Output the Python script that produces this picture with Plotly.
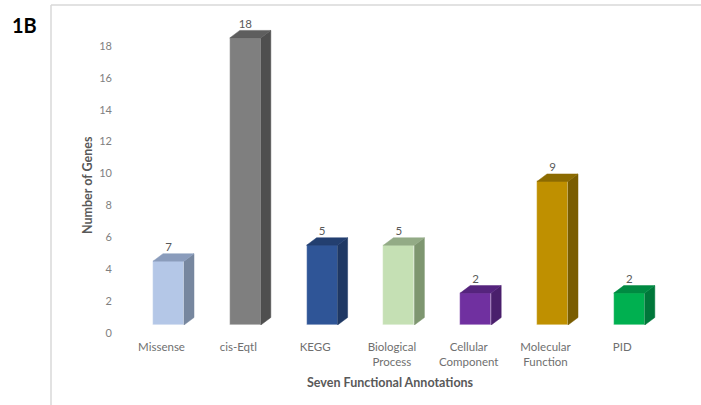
import plotly.graph_objects as go

categories = ["Missense", "cis-Eqtl", "KEGG", "Biological<br>Process", "Cellular<br>Component",
              "Molecular<br>Function", "PID"]
bar_values = [4, 18, 5, 5, 2, 9, 2]
label_texts = ["7", "18", "5", "5", "2", "9", "2"]
y_ticks = [0, 2, 4, 6, 8, 10, 12, 14, 16, 18]

front_colors = ["#b4c7e7", "#7f7f7f", "#2f5597", "#c5e0b4", "#7030a0", "#bf9000", "#00b050"]
side_colors = ["#77879f", "#4f4f4f", "#1f3864", "#7e9670", "#4a1f6c", "#7a5d00", "#00773a"]
top_colors = ["#8a9cbc", "#5e5e5e", "#233f70", "#93ab86", "#55247d", "#8c6b00", "#008a42"]

W, H = 701, 405
L, R, T, B = 115, 11, 14, 80
PW, PH = W - L - R, H - T - B
px_per_cat = 76.8
x0 = -(168.5 - L) / px_per_cat
x1 = x0 + PW / px_per_cat
yr = [0, 19.5]
px_per_y = PH / (yr[1] - yr[0])

bw = 31 / px_per_cat
dx = 10 / px_per_cat
dy = 7.5 / px_per_y

xs = list(range(len(categories)))

fig = go.Figure()
for i, v in enumerate(bar_values):
    xl, xr = xs[i] - bw / 2, xs[i] + bw / 2
    fig.add_trace(go.Scatter(
        x=[xr, xr + dx, xr + dx, xr, xr], y=[0, dy, v + dy, v, 0],
        fill="toself", fillcolor=side_colors[i], mode="lines",
        line=dict(width=0.5, color=side_colors[i]), hoverinfo="skip", showlegend=False))
    fig.add_trace(go.Scatter(
        x=[xl, xl + dx, xr + dx, xr, xl], y=[v, v + dy, v + dy, v, v],
        fill="toself", fillcolor=top_colors[i], mode="lines",
        line=dict(width=0.5, color=top_colors[i]), hoverinfo="skip", showlegend=False))

fig.add_trace(go.Bar(
    x=xs, y=bar_values, width=bw, marker=dict(color=front_colors,
    line=dict(width=0.6, color="rgba(255,255,255,0.5)")),
    hoverinfo="skip", showlegend=False))

fig.add_trace(go.Scatter(
    x=xs, y=[v + dy for v in bar_values], text=label_texts,
    mode="text", textposition="top center",
    textfont=dict(family="Lato", size=11.5, color="#595959"),
    hoverinfo="skip", showlegend=False))

def pxx(p):
    return (p - L) / PW

def pxy(p):
    return (H - B - p) / PH

fig.update_layout(
    width=W, height=H,
    margin=dict(l=L, r=R, t=T, b=B, pad=0),
    paper_bgcolor="white", plot_bgcolor="white",
    bargap=0,
    font=dict(family="Lato", color="#595959"),
    xaxis=dict(range=[x0, x1], tickmode="array", tickvals=xs, ticktext=categories,
               showgrid=False, zeroline=False, showline=False,
               ticks="outside", ticklen=11, tickcolor="rgba(0,0,0,0)",
               ticklabelshift=-7,
               tickfont=dict(family="Lato", size=11.5, color="#6f6f6f")),
    yaxis=dict(range=yr, tickmode="array", tickvals=y_ticks,
               showgrid=False, zeroline=False, showline=False,
               ticks="", ticklabelshift=8, ticklabelstandoff=2,
               tickfont=dict(family="Lato", size=11, color="#7f7f7f")),
    shapes=[
        dict(type="line", xref="paper", yref="paper", x0=pxx(51), x1=pxx(51), y0=pxy(5), y1=pxy(405),
             line=dict(color="#d9d9d9", width=1.5)),
        dict(type="line", xref="paper", yref="paper", x0=pxx(51), x1=pxx(701), y0=pxy(5), y1=pxy(5),
             line=dict(color="#d9d9d9", width=1.5)),
    ],
    annotations=[
        dict(text="<b>1B</b>", xref="paper", yref="paper", x=pxx(24), y=pxy(25),
             xanchor="center", yanchor="middle",
             showarrow=False, font=dict(family="Lato", size=20, color="black")),
        dict(text="<b>Number of Genes</b>", xref="paper", yref="paper", x=pxx(87), y=pxy(185),
             xanchor="center", yanchor="middle",
             textangle=-90, showarrow=False, font=dict(family="Lato", size=12.5, color="#595959")),
        dict(text="<b>Seven Functional Annotations</b>", xref="paper", yref="paper", x=pxx(390), y=pxy(382),
             xanchor="center", yanchor="middle",
             showarrow=False, font=dict(family="Lato", size=12.5, color="#595959")),
    ],
)

fig.write_html("out.html")
